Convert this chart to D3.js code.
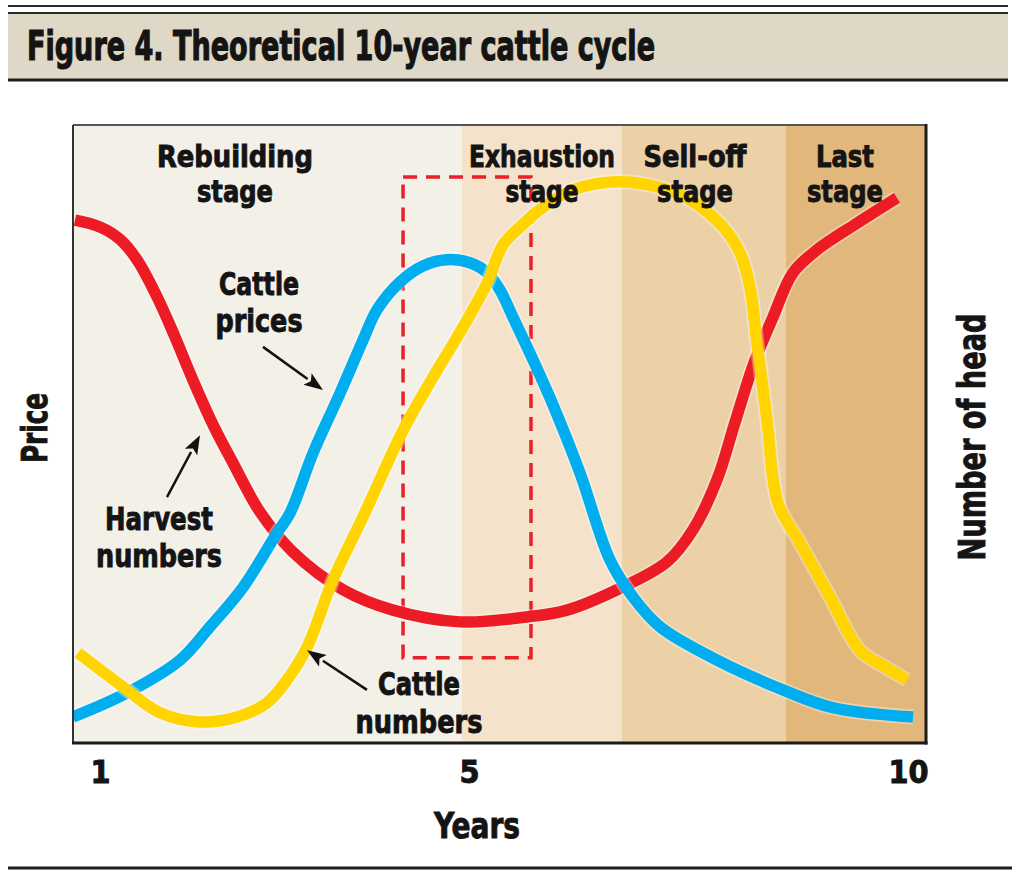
<!DOCTYPE html>
<html>
<head>
<meta charset="utf-8">
<script src="https://cdn.jsdelivr.net/npm/d3@7"></script>
<style>
  html, body { margin: 0; padding: 0; background: #ffffff; }
  svg { display: block; }
  .lbl { font-family: "Liberation Sans Narrow", "DejaVu Sans Condensed", "Roboto Condensed", Roboto, sans-serif; font-weight: bold; fill: #141414; stroke: #141414; stroke-width: 0.9px; }
</style>
</head>
<body>
<svg id="chart" width="1024" height="885"></svg>
<script>
// ---------------- data (years on x, relative index 0-100 on y) ----------------
const harvestYears  = [0.729, 1.0, 1.217, 1.401, 1.618, 1.813, 2.008, 2.225, 2.442, 2.734, 3.092, 3.634, 4.176, 4.902, 5.661, 6.116, 6.686, 7.255, 7.551, 7.825, 8.030, 8.246, 8.462, 8.690, 8.964, 9.419, 9.875];
const harvestValues = [84.6, 83.5, 81.5, 78.2, 72.2, 65.7, 58.7, 51.5, 45.3, 37.4, 30.9, 24.8, 21.5, 19.6, 20.4, 21.5, 24.8, 29.3, 34.5, 42.6, 51.9, 61.5, 68.9, 76.1, 79.8, 84.1, 88.2];

const priceYears  = [0.707, 1.293, 1.867, 2.192, 2.550, 2.919, 3.060, 3.309, 3.602, 3.851, 4.003, 4.252, 4.501, 4.762, 5.011, 5.205, 5.353, 5.501, 5.729, 5.957, 6.264, 6.606, 6.868, 7.175, 7.825, 8.576, 9.146, 10.057];
const priceValues = [4.2, 8.1, 13.4, 18.8, 25.2, 34.0, 37.2, 46.9, 56.6, 65.2, 70.1, 74.6, 77.2, 78.2, 77.7, 76.1, 73.3, 68.9, 62.0, 54.7, 43.7, 29.6, 23.6, 18.8, 13.4, 8.6, 5.7, 4.2];

const numberYears  = [0.762, 1.293, 1.650, 2.084, 2.485, 2.810, 3.027, 3.244, 3.526, 3.851, 4.285, 4.610, 4.935, 5.205, 5.387, 5.581, 5.843, 6.185, 6.686, 7.141, 7.517, 7.893, 8.087, 8.200, 8.280, 8.394, 8.519, 8.770, 9.112, 9.453, 9.738, 9.989];
const numberValues = [14.6, 8.6, 4.9, 3.4, 4.2, 6.5, 10.2, 15.5, 26.4, 36.6, 50.6, 59.2, 67.3, 74.4, 80.6, 83.5, 86.7, 89.5, 90.8, 90.0, 87.9, 83.5, 79.3, 73.8, 64.7, 52.3, 38.8, 32.4, 23.6, 15.0, 12.3, 10.2];

const stageNames  = ["Rebuilding", "Exhaustion", "Sell-off", "Last"];
const stageStarts = [0.707, 4.924, 6.743, 8.610];
const stageEnds   = [4.924, 6.743, 8.610, 10.2];

const tickYears  = [1, 5, 10];
const tickLabels = ["1", "5", "10"];

const titleText = "Figure 4. Theoretical 10-year cattle cycle";

// ---------------- layout ----------------
const plot = { left: 73, right: 926, top: 125, bottom: 743 };
const svg = d3.select("#chart");

const x = d3.scaleLinear().domain([1, 5, 10]).range([100, 469, 908]);
const y = d3.scaleLinear().domain([0, 100]).range([plot.bottom, plot.top]);

const stageFill = ["#f3f0e8", "#f4e3ca", "#ecd1a7", "#e2b77b"];
const lineColor = { harvest: "#ed1c24", price: "#00aeef", number: "#ffd400" };

// ---------------- title band ----------------
svg.append("line").attr("x1", 8).attr("x2", 1008).attr("y1", 6).attr("y2", 6)
  .attr("stroke", "#2a2a2a").attr("stroke-width", 2);
svg.append("rect").attr("x", 8).attr("y", 13).attr("width", 1000).attr("height", 67)
  .attr("fill", "#e0d8c6");
svg.append("line").attr("x1", 8).attr("x2", 1008).attr("y1", 13).attr("y2", 13)
  .attr("stroke", "#2a2a2a").attr("stroke-width", 2);
svg.append("line").attr("x1", 8).attr("x2", 1008).attr("y1", 80).attr("y2", 80)
  .attr("stroke", "#1e1e1e").attr("stroke-width", 3);
svg.append("text").attr("class", "lbl").attr("x", 27).attr("y", 60)
  .attr("font-size", 41).attr("textLength", 628).attr("lengthAdjust", "spacingAndGlyphs")
  .style("stroke-width", "1.2px")
  .text(titleText);

// bottom rule
svg.append("line").attr("x1", 8).attr("x2", 1012).attr("y1", 868).attr("y2", 868)
  .attr("stroke", "#1e1e1e").attr("stroke-width", 3);

// ---------------- stage backgrounds ----------------
svg.append("g").selectAll("rect").data(stageNames).join("rect")
  .attr("x", (d, i) => x(stageStarts[i]))
  .attr("width", (d, i) => x(stageEnds[i]) - x(stageStarts[i]))
  .attr("y", plot.top).attr("height", plot.bottom - plot.top)
  .attr("fill", (d, i) => stageFill[i]);

// ---------------- annotation layout (data coordinates) ----------------
const stageLabelX = [2.463, 5.831, 7.574, 9.282];
const stageLabelW1 = [156, 146, 103, 58];
const stageLabelW2 = [76, 73, 76, 76];

function label(g, txt, xv, yv, size, width) {
  return g.append("text").attr("class", "lbl")
    .attr("x", x(xv)).attr("y", y(yv)).attr("text-anchor", "middle")
    .attr("font-size", size).attr("textLength", width).attr("lengthAdjust", "spacingAndGlyphs")
    .text(txt);
}

// dashed box
svg.append("rect")
  .attr("x", x(4.285)).attr("y", y(91.6))
  .attr("width", x(5.706) - x(4.285)).attr("height", y(13.8) - y(91.6))
  .attr("fill", "none").attr("stroke", "#e8202a").attr("stroke-width", 3.5)
  .attr("stroke-dasharray", "14,9");

// ---------------- lines ----------------
const lineGen = d3.line().x(d => x(d[0])).y(d => y(d[1])).curve(d3.curveCatmullRom.alpha(0.5));
const series = [
  { key: "harvest", xs: harvestYears, ys: harvestValues },
  { key: "price",   xs: priceYears,   ys: priceValues },
  { key: "number",  xs: numberYears,  ys: numberValues }
];
svg.append("clipPath").attr("id", "plotclip").append("rect")
  .attr("x", plot.left).attr("y", plot.top).attr("width", plot.right - plot.left).attr("height", plot.bottom - plot.top);
const gLines = svg.append("g").attr("clip-path", "url(#plotclip)");
series.forEach(s => {
  const pts = s.xs.map((v, i) => [v, s.ys[i]]);
  gLines.append("path").datum(pts).attr("d", lineGen)
    .attr("fill", "none").attr("stroke", "rgba(255,255,255,0.35)").attr("stroke-width", 15);
  gLines.append("path").datum(pts).attr("d", lineGen)
    .attr("fill", "none").attr("stroke", lineColor[s.key]).attr("stroke-width", 11.5)
    .attr("stroke-linejoin", "round").attr("stroke-linecap", "butt");
});

// stage labels on top of the curves
const gStage = svg.append("g");
stageNames.forEach((n, i) => {
  label(gStage, n, stageLabelX[i], 93.2, 30, stageLabelW1[i]);
  label(gStage, "stage", stageLabelX[i], 87.5, 30, stageLabelW2[i]);
});

// ---------------- curve labels and arrows ----------------
const gAnn = svg.append("g");
label(gAnn, "Cattle", 2.724, 72.5, 32, 80);
label(gAnn, "prices", 2.724, 66.5, 32, 87);
label(gAnn, "Harvest", 1.640, 34.5, 32, 108);
label(gAnn, "numbers", 1.640, 28.5, 32, 126);
label(gAnn, "Cattle", 4.458, 7.8, 32, 82);
label(gAnn, "numbers", 4.458, 1.6, 32, 127);

const arrows = [
  { from: [2.767, 64.1], to: [3.417, 57.1] },
  { from: [1.726, 39.8], to: [2.084, 49.8] },
  { from: [3.894, 8.6],  to: [3.244, 15.0] }
];
arrows.forEach(a => {
  const x1 = x(a.from[0]), y1 = y(a.from[1]), x2 = x(a.to[0]), y2 = y(a.to[1]);
  const ang = Math.atan2(y2 - y1, x2 - x1);
  const hl = 19, hw = 7;
  const bx = x2 - hl * Math.cos(ang), by = y2 - hl * Math.sin(ang);
  gAnn.append("line").attr("x1", x1).attr("y1", y1).attr("x2", bx).attr("y2", by)
    .attr("stroke", "#111").attr("stroke-width", 2.5);
  const px = -Math.sin(ang), py = Math.cos(ang);
  gAnn.append("path")
    .attr("d", `M${x2},${y2}L${bx + hw * px},${by + hw * py}L${bx + 4 * Math.cos(ang)},${by + 4 * Math.sin(ang)}L${bx - hw * px},${by - hw * py}Z`)
    .attr("fill", "#111");
});

// ---------------- frame ----------------
svg.append("line").attr("x1", plot.left).attr("x2", plot.right).attr("y1", plot.top).attr("y2", plot.top)
  .attr("stroke", "#555").attr("stroke-width", 2);
svg.append("line").attr("x1", plot.left).attr("x2", plot.left).attr("y1", plot.top).attr("y2", plot.bottom)
  .attr("stroke", "#333").attr("stroke-width", 2);
svg.append("line").attr("x1", plot.right).attr("x2", plot.right).attr("y1", plot.top - 1).attr("y2", plot.bottom + 1.5)
  .attr("stroke", "#1a1a1a").attr("stroke-width", 3);
svg.append("line").attr("x1", plot.left - 1).attr("x2", plot.right + 1.5).attr("y1", plot.bottom).attr("y2", plot.bottom)
  .attr("stroke", "#1a1a1a").attr("stroke-width", 3);

// ---------------- axes ----------------
const xAxis = d3.axisBottom(x).tickValues(tickYears).tickFormat((d, i) => tickLabels[i]).tickSize(0).tickPadding(17);
const gx = svg.append("g").attr("transform", `translate(0,${plot.bottom})`).call(xAxis);
gx.select(".domain").remove();
gx.attr("font-family", null).attr("font-size", null);
gx.selectAll("text").attr("class", "lbl").attr("font-size", 32).attr("fill", "#141414");

svg.append("text").attr("class", "lbl").attr("x", 477).attr("y", 838).attr("text-anchor", "middle")
  .attr("font-size", 36).attr("textLength", 86).attr("lengthAdjust", "spacingAndGlyphs").text("Years");

svg.append("text").attr("class", "lbl").attr("transform", "translate(47,428) rotate(-90)")
  .attr("text-anchor", "middle").attr("font-size", 35).attr("textLength", 70).attr("lengthAdjust", "spacingAndGlyphs")
  .text("Price");

svg.append("text").attr("class", "lbl").attr("transform", "translate(985,437) rotate(-90)")
  .attr("text-anchor", "middle").attr("font-size", 37).attr("textLength", 247).attr("lengthAdjust", "spacingAndGlyphs")
  .text("Number of head");
</script>
</body>
</html>
